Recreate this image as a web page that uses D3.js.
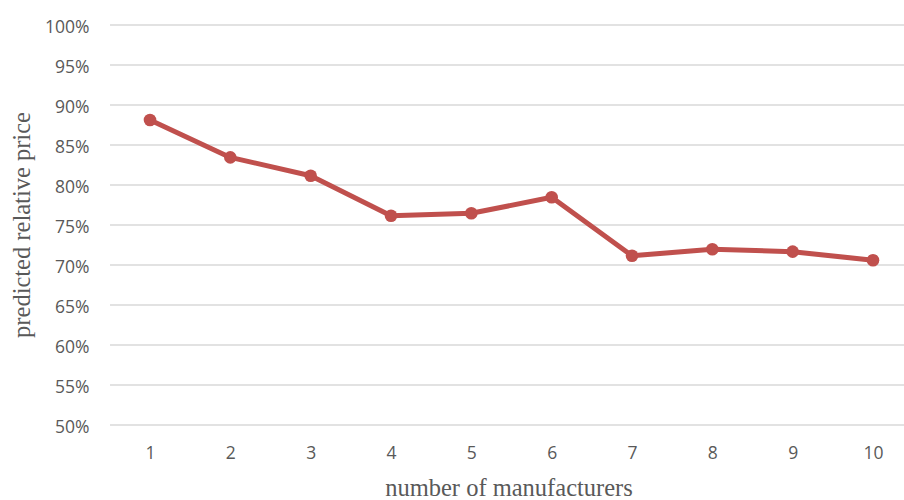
<!DOCTYPE html>
<html><head><meta charset="utf-8">
<script src="https://cdn.jsdelivr.net/npm/d3@7"></script>
<style>
html,body{margin:0;padding:0;background:#fff;}
svg{display:block;}
</style></head>
<body>
<svg id="chart" width="904" height="500"></svg>
<script>
const categories = ["1","2","3","4","5","6","7","8","9","10"];
const values = [0.8812, 0.8345, 0.8116, 0.7616, 0.7646, 0.7846, 0.7116, 0.7196, 0.7167, 0.7060];
const yTicks = [0.50,0.55,0.60,0.65,0.70,0.75,0.80,0.85,0.90,0.95,1.00];
const xTitle = "number of manufacturers";
const yTitle = "predicted relative price";

const svg = d3.select("#chart");
const plotLeft = 110, plotRight = 904, plotTop = 25, plotBottom = 425;

const x = d3.scalePoint().domain(categories).range([150, 873]);
const y = d3.scaleLinear().domain([0.5, 1.0]).range([plotBottom, plotTop]);

// gridlines
svg.append("g").selectAll("line").data(yTicks).join("line")
  .attr("x1", plotLeft).attr("x2", plotRight)
  .attr("y1", d => y(d)).attr("y2", d => y(d))
  .attr("stroke", "#D9D9D9").attr("stroke-width", 1.3);

// y axis labels
const yAxis = d3.axisLeft(y).tickValues(yTicks).tickFormat(d3.format(".0%")).tickSize(0).tickPadding(0);
const gy = svg.append("g").attr("transform", "translate(89.5,0)").call(yAxis);
gy.select(".domain").remove();
gy.selectAll("text").attr("font-family", "'Open Sans', 'Noto Sans', sans-serif")
  .attr("font-size", 17.5).attr("fill", "#595959").attr("dy", "7.5");

// x axis labels
const xAxis = d3.axisBottom(x).tickSize(0).tickPadding(0);
const gx = svg.append("g").attr("transform", "translate(0,459)").call(xAxis);
gx.select(".domain").remove();
gx.selectAll("text").attr("font-family", "'Open Sans', 'Noto Sans', sans-serif")
  .attr("font-size", 17.5).attr("fill", "#595959").attr("y", 0).attr("dy", "0");

// line
const line = d3.line().x((d,i) => x(categories[i])).y(d => y(d));
svg.append("path").datum(values).attr("d", line)
  .attr("fill", "none").attr("stroke", "#C0504D").attr("stroke-width", 5)
  .attr("stroke-linejoin", "round");

svg.append("g").selectAll("circle").data(values).join("circle")
  .attr("cx", (d,i) => x(categories[i])).attr("cy", d => y(d))
  .attr("r", 6.3).attr("fill", "#C0504D");

// titles
svg.append("text").attr("x", 509).attr("y", 496)
  .attr("text-anchor", "middle").attr("font-family", "'Liberation Serif', 'Times New Roman', serif")
  .attr("font-size", 24.5).attr("fill", "#595959").text(xTitle);

svg.append("text").attr("transform", "translate(30,225) rotate(-90)")
  .attr("text-anchor", "middle").attr("font-family", "'Liberation Serif', 'Times New Roman', serif")
  .attr("font-size", 24.5).attr("fill", "#595959").text(yTitle);
</script>
</body></html>
